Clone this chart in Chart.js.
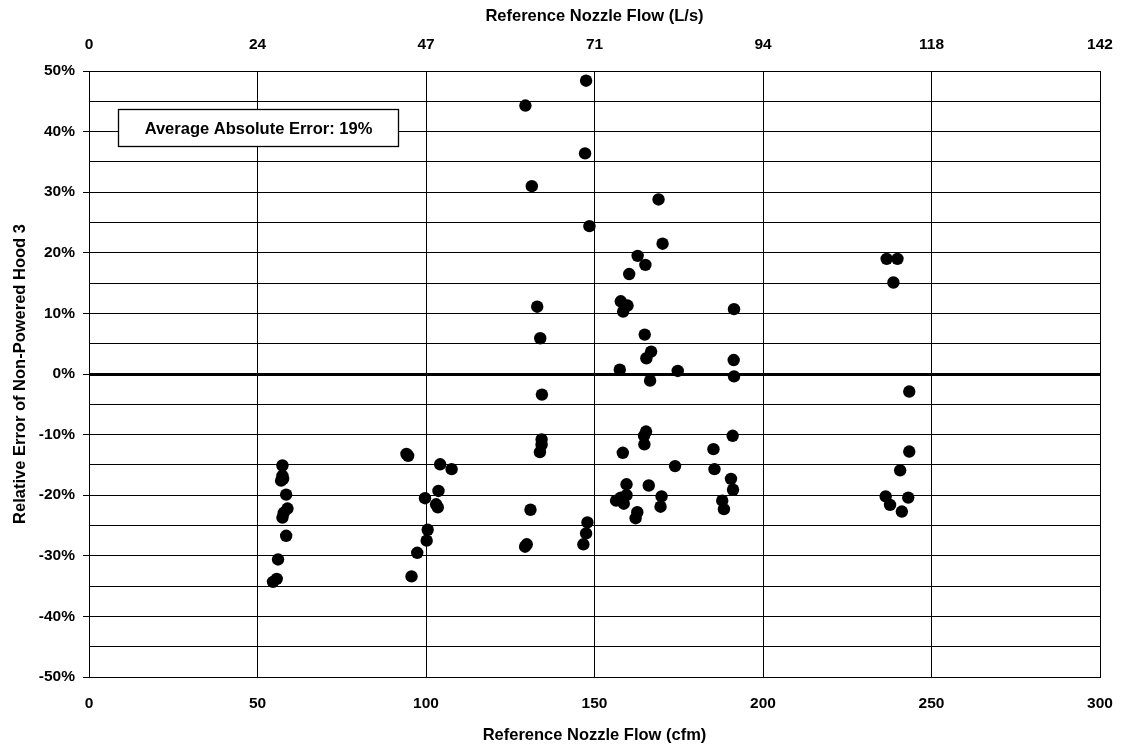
<!DOCTYPE html>
<html>
<head>
<meta charset="utf-8">
<script src="https://cdn.jsdelivr.net/npm/chart.js@4/dist/chart.umd.min.js"></script>
<style>
  html, body { margin: 0; padding: 0; background: #fff; }
  #wrap { width: 1121px; height: 748px; position: relative; }
</style>
</head>
<body>
<div id="wrap"><canvas id="chart"></canvas></div>
<script>
// reference nozzle flow (cfm) and relative error (%)
const flowCfm = [
  57.4, 57.4, 57.0, 57.6, 58.5, 58.9, 57.8, 57.4, 58.5, 56.1, 55.7, 54.6,
  94.2, 94.7, 104.2, 107.6, 103.7, 99.7, 103.0, 103.5, 100.5, 100.2, 97.4, 95.7,
  129.5, 147.5, 147.2, 131.4, 148.5, 133.0, 133.9, 134.4, 134.3, 134.3, 133.8, 131.0, 129.9, 129.4, 147.9, 147.5, 146.7,
  169.0, 170.2, 162.8, 165.1, 160.3, 157.8, 159.8, 158.5, 164.9, 166.8, 165.4, 157.5, 174.7, 166.5,
  165.3, 164.7, 164.8, 158.4, 173.9, 159.5, 166.1, 156.4, 157.8, 159.5, 158.7, 169.9, 169.6, 162.7, 162.2,
  191.4, 191.3, 191.4, 191.0, 185.3, 185.6, 190.5, 191.1, 187.9, 188.4,
  236.7, 239.9, 238.7, 243.4, 243.4, 240.7, 236.4, 243.1, 237.7, 241.2
];
const relErrorPct = [
  -15.1, -16.8, -17.6, -17.3, -19.9, -22.2, -22.9, -23.7, -26.7, -30.6, -33.8, -34.3,
  -13.2, -13.5, -14.9, -15.7, -19.3, -20.5, -21.5, -22.0, -25.7, -27.5, -29.5, -33.4,
  44.3, 48.4, 36.4, 31.0, 24.4, 11.1, 5.9, -3.4, -10.8, -11.7, -12.9, -22.4, -28.1, -28.5, -24.5, -26.3, -28.1,
  28.8, 21.5, 19.5, 18.0, 16.5, 12.0, 11.3, 10.3, 6.5, 3.7, 2.6, 0.7, 0.5, -1.1,
  -9.5, -10.2, -11.6, -13.0, -15.2, -18.2, -18.4, -20.9, -20.4, -20.0, -21.4, -20.2, -21.9, -22.8, -23.8,
  10.7, 2.3, -0.4, -10.2, -12.4, -15.7, -17.3, -19.1, -20.9, -22.3,
  19.0, 19.0, 15.1, -2.9, -12.8, -15.9, -20.2, -20.4, -21.6, -22.7
];
const topTickLabels = ["0", "24", "47", "71", "94", "118", "142"];
const avgAbsErrorText = "Average Absolute Error: 19%";

const FONT = "'Liberation Sans', Arial, sans-serif";
const points = flowCfm.map((x, i) => ({ x, y: relErrorPct[i] }));

// text box in the upper left corner, placed in data units
const noteBox = {
  id: "noteBox",
  afterDatasetsDraw(chart) {
    const { ctx, scales: { x, y } } = chart;
    const l = Math.round(x.getPixelForValue(8.6)) + 0.5;
    const r = Math.round(x.getPixelForValue(91.7)) + 0.5;
    const t = Math.round(y.getPixelForValue(43.7)) + 0.5;
    const b = Math.round(y.getPixelForValue(37.6)) + 0.5;
    ctx.save();
    ctx.fillStyle = "#fff";
    ctx.fillRect(l, t, r - l, b - t);
    ctx.strokeStyle = "#000";
    ctx.lineWidth = 1.3;
    ctx.strokeRect(l, t, r - l, b - t);
    ctx.fillStyle = "#000";
    ctx.font = "bold 16.5px " + FONT;
    ctx.textAlign = "center";
    ctx.textBaseline = "middle";
    ctx.fillText(avgAbsErrorText, (l + r) / 2, (t + b) / 2 + 1);
    ctx.restore();
  }
};

// fixed axis box sizes so the plot area sits where it does in the original
const fitX = (s) => { s.height = 71; s.paddingLeft = 0; s.paddingRight = 0; };

new Chart(document.getElementById("chart"), {
  type: "scatter",
  data: {
    datasets: [{
      data: points,
      backgroundColor: "#000",
      borderWidth: 0,
      pointRadius: 6.2,
      pointHoverRadius: 6.2
    }]
  },
  options: {
    responsive: true,
    maintainAspectRatio: false,
    animation: false,
    events: [],
    layout: { padding: { right: 21, top: 0, bottom: 0, left: 0 } },
    plugins: { legend: { display: false }, tooltip: { enabled: false } },
    scales: {
      x: {
        type: "linear", position: "bottom", min: 0, max: 300,
        afterFit: fitX,
        ticks: { stepSize: 50, autoSkip: false, maxRotation: 0, padding: 17, color: "#000",
                 font: { family: FONT, size: 15.5, weight: "bold" } },
        grid: { color: "#000", lineWidth: 1, drawTicks: false },
        border: { color: "#000", width: 1 },
        title: { display: true, text: "Reference Nozzle Flow (cfm)", color: "#000",
                 font: { family: FONT, size: 16.5, weight: "bold" }, padding: { top: 0, bottom: 3 } }
      },
      x2: {
        type: "linear", position: "top", min: 0, max: 300,
        afterFit: fitX,
        ticks: { stepSize: 50, autoSkip: false, maxRotation: 0, padding: 17, color: "#000",
                 font: { family: FONT, size: 15.5, weight: "bold" },
                 callback: (v, i) => topTickLabels[i] },
        grid: { display: false, drawTicks: false },
        border: { color: "#000", width: 1 },
        title: { display: true, text: "Reference Nozzle Flow (L/s)", color: "#000",
                 font: { family: FONT, size: 16.5, weight: "bold" }, padding: { top: 7, bottom: 0 } }
      },
      y: {
        type: "linear", min: -50, max: 50,
        afterFit: (s) => { s.width = 89; s.paddingTop = 0; s.paddingBottom = 0; },
        ticks: { stepSize: 5, autoSkip: false, padding: 8, color: "#000",
                 font: { family: FONT, size: 15.5, weight: "bold" },
                 callback: (v) => (v % 10 === 0 ? v + "%" : "") },
        grid: {
          color: "#000",
          lineWidth: (c) => (c.tick && c.tick.value === 0 ? 3 : 1),
          tickLength: 6,
          tickColor: (c) => (c.tick && c.tick.value % 10 === 0 ? "#000" : "rgba(0,0,0,0)"),
          tickWidth: 1
        },
        border: { color: "#000", width: 1 },
        title: { display: true, text: "Relative Error of Non-Powered Hood 3", color: "#000",
                 font: { family: FONT, size: 16.5, weight: "bold" }, padding: { top: 11, bottom: 0 } }
      }
    }
  },
  plugins: [noteBox]
});
</script>
</body>
</html>
